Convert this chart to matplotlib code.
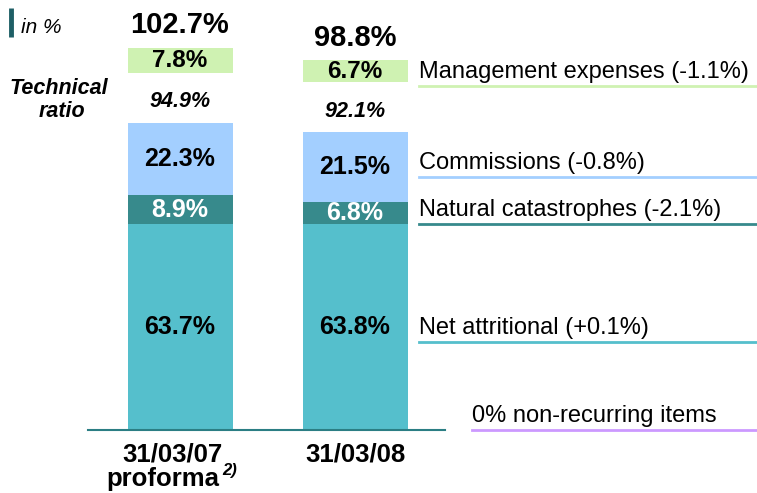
import matplotlib.pyplot as plt

plt.rcParams['font.family'] = ['Liberation Sans', 'DejaVu Sans']

periods = ["31/03/07", "31/03/08"]
net_attritional = [63.7, 63.8]
nat_cat = [8.9, 6.8]
commissions = [22.3, 21.5]
technical = [94.9, 92.1]
management = [7.8, 6.7]
combined = [102.7, 98.8]
legend_labels = ["Management expenses (-1.1%)", "Commissions (-0.8%)",
                 "Natural catastrophes (-2.1%)", "Net attritional (+0.1%)",
                 "0% non-recurring items"]

c_net = "#55bfcc"
c_cat = "#378a8c"
c_com = "#a3cfff"
c_mgt = "#cff2b2"
c_nonrec = "#cc99ff"
c_axis = "#2b7e84"

fig = plt.figure(figsize=(7.57, 4.93), dpi=100)
ax = fig.add_axes([0, 0, 1, 1])
ppu = 3.235  # pixels per percentage point
ax.set_xlim(-180 / 175, (757 - 180) / 175)
ax.set_ylim(-63 / ppu, 430 / ppu)
ax.axis("off")

def px(x):
    return (x - 180) / 175

def py(y):
    return (430 - y) / ppu

xs = [0, 1]
w = 105 / 175
ax.bar(xs, net_attritional, width=w, color=c_net)
ax.bar(xs, nat_cat, width=w, bottom=net_attritional, color=c_cat)
bot2 = [a + b for a, b in zip(net_attritional, nat_cat)]
ax.bar(xs, commissions, width=w, bottom=bot2, color=c_com)
mgt_bottom = [t + 15.5 for t in technical]
ax.bar(xs, management, width=w, bottom=mgt_bottom, color=c_mgt)

for i in xs:
    ax.text(i, net_attritional[i] / 2, f"{net_attritional[i]}%", ha="center", va="center",
            fontsize=18, fontweight="bold")
    ax.text(i, net_attritional[i] + nat_cat[i] / 2, f"{nat_cat[i]}%", ha="center", va="center",
            fontsize=18, fontweight="bold", color="white")
    ax.text(i, bot2[i] + commissions[i] / 2, f"{commissions[i]}%", ha="center", va="center",
            fontsize=18, fontweight="bold")
    ax.text(i, technical[i] + 6.5, f"{technical[i]}%", ha="center", va="center",
            fontsize=15.5, fontweight="bold", style="italic")
    ax.text(i, mgt_bottom[i] + management[i] / 2, f"{management[i]}%", ha="center", va="center",
            fontsize=17.5, fontweight="bold")
    ax.text(i, mgt_bottom[i] + management[i] + 7.0, f"{combined[i]}%", ha="center", va="center",
            fontsize=21, fontweight="bold")

# baseline
ax.plot([px(88), px(445)], [0, 0], color=c_axis, lw=1.5)

# x labels
ax.text(px(172), py(455), periods[0], ha="center", va="center", fontsize=18.5, fontweight="bold")
ax.text(px(163), py(479), "proforma", ha="center", va="center", fontsize=18.5, fontweight="bold")
ax.text(px(222), py(471), "2)", ha="left", va="center", fontsize=12, style="italic", fontweight="bold")
ax.text(1, py(455), periods[1], ha="center", va="center", fontsize=18.5, fontweight="bold")

# left annotations
ax.plot([px(11), px(11)], [py(8), py(37)], color="#1e5f66", lw=3.5, solid_capstyle="butt")
ax.text(px(21), py(27), "in %", ha="left", va="center", fontsize=15, style="italic")
ax.text(px(59), py(88), "Technical", ha="center", va="center", fontsize=15.5,
        fontweight="bold", style="italic")
ax.text(px(62), py(111), "ratio", ha="center", va="center", fontsize=15.5,
        fontweight="bold", style="italic")

# legend lines
leg_y = [86, 177, 224, 342, 430]
leg_x = [419, 419, 419, 419, 472]
leg_c = [c_mgt, c_com, c_cat, c_net, c_nonrec]
for lab, y, x0, c in zip(legend_labels, leg_y, leg_x, leg_c):
    ax.plot([px(x0), px(757)], [py(y), py(y)], color=c, lw=2)
    ax.text(px(x0), py(y - 3), lab, ha="left", va="bottom", fontsize=17)

fig.savefig("out.png", dpi=100)
